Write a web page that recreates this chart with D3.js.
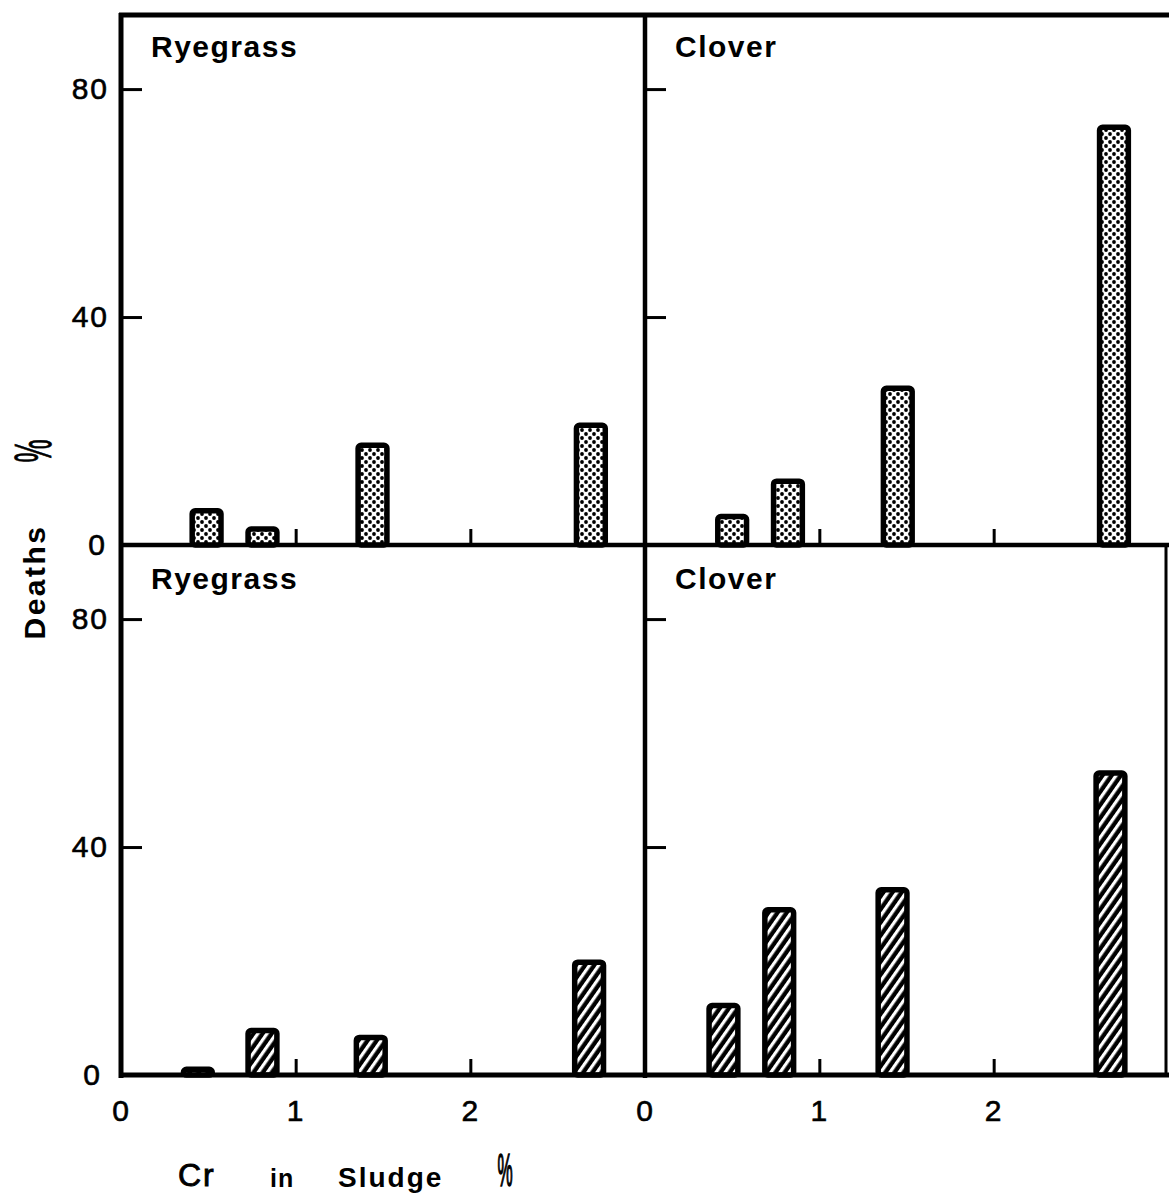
<!DOCTYPE html>
<html>
<head>
<meta charset="utf-8">
<script src="https://cdn.jsdelivr.net/npm/d3@7"></script>
<style>
  body { margin: 0; background: #fff; }
  svg { display: block; font-family: "Liberation Sans", Arial, Helvetica, sans-serif; }
</style>
</head>
<body>
<svg id="chart" width="1169" height="1195"></svg>
<script>
// Cr in sludge (%) and deaths (%), one pair per panel
const crRyegrassTop = [0.49, 0.81, 1.44, 2.69];
const deathsRyegrassTop = [6, 2.8, 17.5, 21];
const crCloverTop = [0.50, 0.82, 1.45, 2.69];
const deathsCloverTop = [5, 11.2, 27.5, 73.3];
const crRyegrassBottom = [0.44, 0.81, 1.43, 2.68];
const deathsRyegrassBottom = [1, 7.8, 6.6, 19.8];
const crCloverBottom = [0.45, 0.77, 1.42, 2.67];
const deathsCloverBottom = [12.2, 29, 32.5, 53];

const panelNames = ["Ryegrass", "Clover", "Ryegrass", "Clover"];
const yTickValues = [80, 40, 0];
const xTickValues = [0, 1, 2];

const svg = d3.select("#chart");

// the two columns share the x domain, the two rows the y domain
const colRanges = [[121, 645], [645, 1168]];
const rowRanges = [[545, 15], [1075, 545]];
const xs = colRanges.map(r => d3.scaleLinear().domain([0, 3]).range(r));
const ys = rowRanges.map(r => d3.scaleLinear().domain([0, 93]).range(r));
const barW = 0.165; // in Cr units

const panels = [
  {name: panelNames[0], cr: crRyegrassTop, deaths: deathsRyegrassTop, col: 0, row: 0, fill: "url(#dots)"},
  {name: panelNames[1], cr: crCloverTop, deaths: deathsCloverTop, col: 1, row: 0, fill: "url(#dots)"},
  {name: panelNames[2], cr: crRyegrassBottom, deaths: deathsRyegrassBottom, col: 0, row: 1, fill: "url(#hatch)"},
  {name: panelNames[3], cr: crCloverBottom, deaths: deathsCloverBottom, col: 1, row: 1, fill: "url(#hatch)"},
];

// fills: stippled dots for the top row, diagonal hatch for the bottom row
const defs = svg.append("defs");
const dots = defs.append("pattern")
  .attr("id", "dots")
  .attr("patternUnits", "userSpaceOnUse")
  .attr("width", 8).attr("height", 8);
dots.append("rect").attr("width", 8).attr("height", 8).attr("fill", "#fff");
dots.append("circle").attr("cx", 2).attr("cy", 2).attr("r", 1.9).attr("fill", "#000");
dots.append("circle").attr("cx", 6).attr("cy", 6).attr("r", 1.9).attr("fill", "#000");

const hatch = defs.append("pattern")
  .attr("id", "hatch")
  .attr("patternUnits", "userSpaceOnUse")
  .attr("width", 7.5).attr("height", 7.5)
  .attr("patternTransform", "rotate(35)");
hatch.append("rect").attr("width", 7.5).attr("height", 7.5).attr("fill", "#000");
hatch.append("rect").attr("width", 3.2).attr("height", 7.5).attr("fill", "#fff");

// bars
panels.forEach(p => {
  const x = xs[p.col], y = ys[p.row];
  const rows = p.cr.map((c, i) => ({cr: c, v: p.deaths[i]}));
  svg.append("g")
    .selectAll("rect")
    .data(rows)
    .enter().append("rect")
    .attr("x", d => x(d.cr - barW / 2))
    .attr("width", d => x(d.cr + barW / 2) - x(d.cr - barW / 2))
    .attr("y", d => y(d.v))
    .attr("height", d => y(0) - y(d.v))
    .attr("rx", 3)
    .attr("fill", p.fill)
    .attr("stroke", "#000")
    .attr("stroke-width", 5.5);

  svg.append("text")
    .attr("x", x(0) + 30)
    .attr("y", y(93) + (p.row === 0 ? 42 : 44))
    .attr("font-size", 30)
    .attr("font-weight", "bold")
    .attr("letter-spacing", 1.5)
    .text(p.name);
});

// frame lines
const frame = [
  [119, 15, 1169, 15, 5],
  [121, 13, 121, 1078, 5],
  [645, 13, 645, 1078, 4.5],
  [119, 545, 1169, 545, 4.5],
  [119, 1075, 1169, 1075, 5],
  [1166, 545, 1166, 1077, 3],
];
svg.append("g")
  .selectAll("line")
  .data(frame)
  .enter().append("line")
  .attr("x1", d => d[0]).attr("y1", d => d[1])
  .attr("x2", d => d[2]).attr("y2", d => d[3])
  .attr("stroke", "#000")
  .attr("stroke-width", d => d[4]);

function styleAxis(g) {
  g.select(".domain").remove();
  g.attr("font-size", null).attr("font-family", null);
  g.selectAll(".tick line").attr("stroke-width", 3);
  g.selectAll(".tick text")
    .attr("font-size", 30)
    .attr("letter-spacing", 2)
    .attr("fill", "#000")
    .attr("stroke", "#000")
    .attr("stroke-width", 0.6);
}

// y axes: labelled on the left column, ticks only in the right column
ys.forEach((y, row) => {
  svg.append("g")
    .attr("transform", `translate(${colRanges[0][0]},0)`)
    .call(d3.axisLeft(y).tickValues(yTickValues).tickFormat(d3.format("d"))
      .tickSizeInner(-21).tickSizeOuter(0).tickPadding(12))
    .call(styleAxis)
    .call(g => g.selectAll(".tick").filter(d => d === 0).select("text").attr("dx", row === 0 ? -2 : -7));

  svg.append("g")
    .attr("transform", `translate(${colRanges[1][0]},0)`)
    .call(d3.axisLeft(y).tickValues([80, 40]).tickFormat("").tickSizeInner(-21).tickSizeOuter(0))
    .call(styleAxis);
});

// x axes: short ticks at 1 and 2 on every baseline, labels below the bottom row
xs.forEach(x => {
  svg.append("g")
    .attr("transform", `translate(0,${rowRanges[0][0]})`)
    .call(d3.axisBottom(x).tickValues([1, 2]).tickFormat("").tickSizeInner(-16).tickSizeOuter(0))
    .call(styleAxis);

  svg.append("g")
    .attr("transform", `translate(0,${rowRanges[1][0]})`)
    .call(d3.axisBottom(x).tickValues(xTickValues).tickFormat(d3.format("d"))
      .tickSizeInner(-16).tickSizeOuter(0).tickPadding(25))
    .call(styleAxis)
    .call(g => g.selectAll(".tick").filter(d => d === 0).select("line").remove());
});

// y title
svg.append("text")
  .attr("transform", "translate(45,582) rotate(-90)")
  .attr("text-anchor", "middle")
  .attr("font-size", 30)
  .attr("font-weight", "bold")
  .attr("letter-spacing", 2.5)
  .text("Deaths");
svg.append("text")
  .attr("transform", "translate(33,451) rotate(-90) scale(0.5,1)")
  .attr("text-anchor", "middle")
  .attr("dominant-baseline", "central")
  .attr("font-size", 52)
  .attr("stroke", "#000")
  .attr("stroke-width", 0.8)
  .text("%");

// x title
const xTitle = svg.append("g");
xTitle.append("text")
  .attr("x", 178).attr("y", 1186)
  .attr("font-size", 32)
  .attr("letter-spacing", 2)
  .attr("stroke", "#000")
  .attr("stroke-width", 0.9)
  .text("Cr");
xTitle.append("text")
  .attr("x", 270).attr("y", 1187)
  .attr("font-size", 25)
  .attr("font-weight", "bold")
  .attr("letter-spacing", 1)
  .text("in");
xTitle.append("text")
  .attr("x", 338).attr("y", 1187)
  .attr("font-size", 28)
  .attr("font-weight", "bold")
  .attr("letter-spacing", 2)
  .text("Sludge");
xTitle.append("text")
  .attr("transform", "translate(505,1170) scale(0.45,1.2)")
  .attr("text-anchor", "middle")
  .attr("dominant-baseline", "central")
  .attr("font-size", 38)
  .attr("stroke", "#000")
  .attr("stroke-width", 1.2)
  .text("%");
</script>
</body>
</html>
